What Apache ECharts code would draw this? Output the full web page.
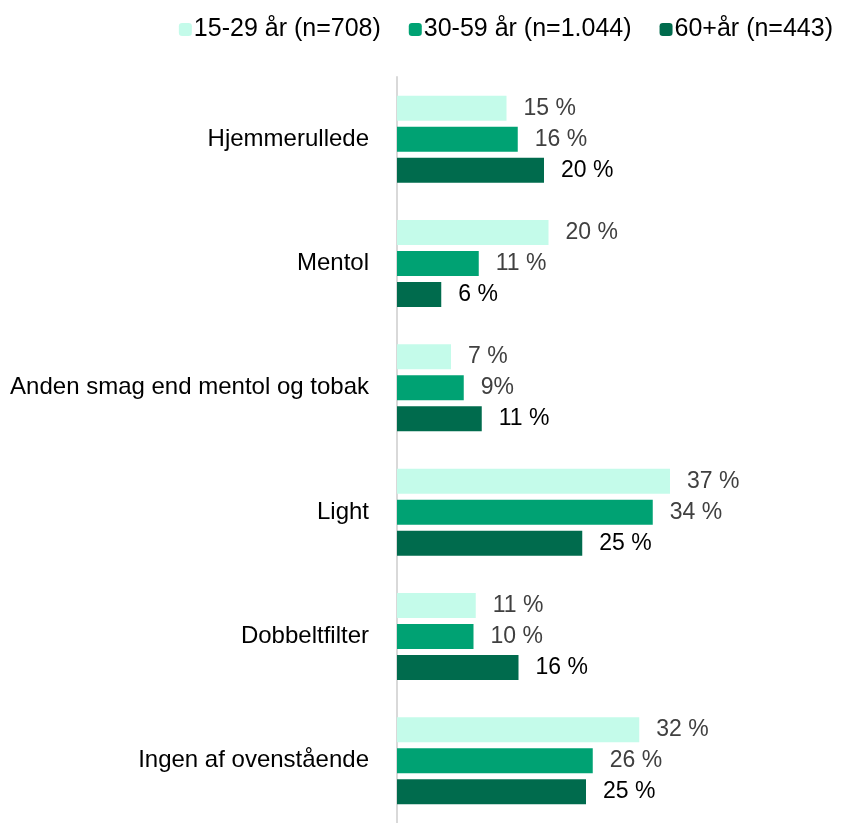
<!DOCTYPE html>
<html>
<head>
<meta charset="utf-8">
<script src="https://cdn.jsdelivr.net/npm/echarts@6/dist/echarts.min.js"></script>
<style>
  html, body { margin: 0; padding: 0; background: #fff; }
  #chart { width: 843px; height: 823px; }
</style>
</head>
<body>
<div id="chart"></div>
<script>
  var categories = ['Hjemmerullede', 'Mentol', 'Anden smag end mentol og tobak', 'Light', 'Dobbeltfilter', 'Ingen af ovenstående'];
  var seriesNames = ['15-29 år (n=708)', '30-59 år (n=1.044)', '60+år (n=443)'];

  // (procent)
  var young = [14.6, 20.2, 7.2, 36.4, 10.5, 32.3];
  var middle = [16.1, 10.9, 8.9, 34.1, 10.2, 26.1];
  var old = [19.6, 5.9, 11.3, 24.7, 16.2, 25.2];

  var youngLabels = ['15 %', '20 %', '7 %', '37 %', '11 %', '32 %'];
  var middleLabels = ['16 %', '11 %', '9%', '34 %', '10 %', '26 %'];
  var oldLabels = ['20 %', '6 %', '11 %', '25 %', '16 %', '25 %'];

  var colors = ['#c4fbea', '#00a273', '#006b4d'];

  function makeSeries(name, values, labels, labelColor) {
    return {
      name: name,
      type: 'bar',
      data: values,
      barWidth: 25,
      barGap: '24%',
      label: {
        show: true,
        position: 'right',
        distance: 17,
        color: labelColor,
        fontSize: 23,
        fontFamily: 'Liberation Sans, Arial, sans-serif',
        formatter: function (p) { return labels[p.dataIndex]; }
      }
    };
  }

  var myChart = echarts.init(document.getElementById('chart'));
  myChart.setOption({
    animation: false,
    color: colors,
    textStyle: { fontFamily: 'Liberation Sans, Arial, sans-serif' },
    legend: {
      data: seriesNames,
      top: 12,
      right: 5,
      itemWidth: 13,
      itemHeight: 13,
      itemGap: 28,
      textStyle: { fontSize: 25, color: '#000', padding: [0, 0, 0, -3] }
    },
    grid: {
      left: 397,
      top: 77,
      width: 375,
      height: 750,
      containLabel: false
    },
    xAxis: {
      type: 'value',
      min: 0,
      max: 50,
      show: false
    },
    yAxis: {
      type: 'category',
      data: categories,
      inverse: true,
      axisLine: { show: true, lineStyle: { color: '#d9d9d9', width: 2 } },
      axisTick: { show: false },
      axisLabel: { fontSize: 24, color: '#000', margin: 28 }
    },
    series: [
      makeSeries(seriesNames[0], young, youngLabels, '#404040'),
      makeSeries(seriesNames[1], middle, middleLabels, '#404040'),
      makeSeries(seriesNames[2], old, oldLabels, '#000')
    ]
  });
</script>
</body>
</html>
